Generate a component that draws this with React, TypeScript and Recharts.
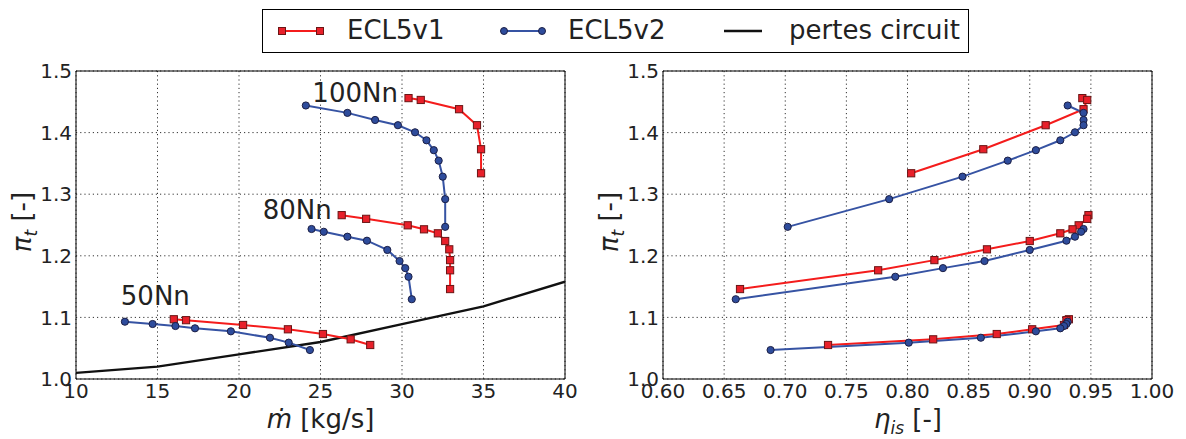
import React from 'react';
import {
  ComposedChart,
  Line,
  Scatter,
  XAxis,
  YAxis,
  CartesianGrid,
  ReferenceArea,
} from 'recharts';

// ECL5v1, 100Nn
const v1_100_m = [30.4, 31.15, 33.5, 34.6, 34.85, 34.85];
const v1_100_pi = [1.456, 1.453, 1.438, 1.412, 1.373, 1.334];
const v1_100_eta = [0.943, 0.947, 0.944, 0.913, 0.862, 0.803];
// ECL5v2, 100Nn
const v2_100_m = [24.1, 26.65, 28.35, 29.75, 30.8, 31.5, 31.95, 32.25, 32.5, 32.65, 32.65];
const v2_100_pi = [1.444, 1.432, 1.4205, 1.412, 1.4005, 1.3875, 1.3715, 1.3545, 1.3285, 1.292, 1.247];
const v2_100_eta = [0.931, 0.944, 0.944, 0.944, 0.937, 0.925, 0.905, 0.882, 0.845, 0.785, 0.702];
// ECL5v1, 80Nn
const v1_80_m = [26.3, 27.8, 30.35, 31.35, 32.2, 32.65, 32.9, 32.95, 32.95, 32.95];
const v1_80_pi = [1.266, 1.26, 1.2495, 1.243, 1.2365, 1.224, 1.2105, 1.193, 1.1765, 1.146];
const v1_80_eta = [0.948, 0.947, 0.94, 0.935, 0.925, 0.9, 0.865, 0.822, 0.776, 0.663];
// ECL5v2, 80Nn
const v2_80_m = [24.45, 25.2, 26.65, 27.85, 29.1, 29.85, 30.2, 30.4, 30.6];
const v2_80_pi = [1.2435, 1.239, 1.231, 1.2245, 1.2095, 1.1915, 1.18, 1.166, 1.1295];
const v2_80_eta = [0.944, 0.942, 0.937, 0.93, 0.9, 0.863, 0.829, 0.79, 0.6595];
// ECL5v1, 50Nn
const v1_50_m = [16.0, 16.75, 20.25, 23.0, 25.15, 26.85, 28.05];
const v1_50_pi = [1.097, 1.0955, 1.0877, 1.0807, 1.073, 1.0644, 1.0552];
const v1_50_eta = [0.932, 0.93, 0.928, 0.902, 0.873, 0.821, 0.735];
// ECL5v2, 50Nn
const v2_50_m = [13.0, 14.7, 16.1, 17.3, 19.5, 21.9, 23.05, 24.35];
const v2_50_pi = [1.093, 1.0893, 1.086, 1.0823, 1.0774, 1.067, 1.059, 1.047];
const v2_50_eta = [0.931, 0.93, 0.928, 0.925, 0.905, 0.86, 0.801, 0.688];
// pertes circuit
const circuit_m = [10, 15, 20, 25, 30, 35, 40];
const circuit_pi = [1.01, 1.02, 1.04, 1.06, 1.089, 1.118, 1.158];

const massTicks = [10, 15, 20, 25, 30, 35, 40];
const etaTicks = [0.6, 0.65, 0.7, 0.75, 0.8, 0.85, 0.9, 0.95, 1.0];
const piTicks = [1.0, 1.1, 1.2, 1.3, 1.4, 1.5];

const speedLabels = ['100Nn', '80Nn', '50Nn'];
const speedLabelM = [24.5, 21.45, 12.75];
const speedLabelPi = [1.45, 1.259, 1.12];

const zip = (xs: number[], ys: number[]) => xs.map((x, i) => ({ x, y: ys[i] }));

const RED = '#f41c1c';
const RED_FILL = '#e8202a';
const RED_EDGE = '#6b1515';
const BLUE = '#3653a3';
const BLUE_FILL = '#2e4c9c';
const BLUE_EDGE = '#1c1f45';
const FONT = '"DejaVu Sans", sans-serif';

const square = (p: any) => {
  if (p.cx == null || p.cy == null) return <g key={p.index} />;
  return (
    <rect key={p.index} x={p.cx - 3.6} y={p.cy - 3.6} width={7.2} height={7.2}
      fill={RED_FILL} stroke={RED_EDGE} strokeWidth={1} />
  );
};

const circle = (p: any) => {
  if (p.cx == null || p.cy == null) return <g key={p.index} />;
  return <circle key={p.index} cx={p.cx} cy={p.cy} r={3.6} fill={BLUE_FILL} stroke={BLUE_EDGE} strokeWidth={1} />;
};

const textShape = (p: any) => (
  <text x={p.cx} y={p.cy} fontSize={26} fill="#222" fontFamily={FONT}>{p.payload.label}</text>
);

const W = 600;
const H = 439;
const margin = { top: 71, right: 35, bottom: 0, left: 10 };
const tick = { fontSize: 20, fill: '#222', fontFamily: FONT };

type Group = { v1: { x: number; y: number }[]; v2: { x: number; y: number }[] };

const Panel = ({ groups, domain, ticks, fmt, circuit, labels }: {
  groups: Group[]; domain: [number, number]; ticks: number[]; fmt: (v: number) => string;
  circuit?: { x: number; y: number }[]; labels?: { x: number; y: number; label: string }[];
}) => (
  <ComposedChart width={W} height={H} margin={margin}>
    <CartesianGrid strokeDasharray="1.2 3" stroke="#333" strokeWidth={1} />
    <XAxis type="number" dataKey="x" domain={domain} ticks={ticks} interval={0}
      allowDataOverflow tickFormatter={fmt} tick={tick} tickSize={0} tickMargin={5}
      axisLine={false} height={60} />
    <YAxis type="number" dataKey="y" domain={[1.0, 1.5]} ticks={piTicks} interval={0}
      allowDataOverflow tickFormatter={(v: number) => v.toFixed(1)} tick={tick}
      tickSize={0} tickMargin={4} axisLine={false} width={66} />
    <ReferenceArea x1={domain[0]} x2={domain[1]} y1={1.0} y2={1.5} fill="none"
      stroke="#000" strokeWidth={1} ifOverflow="visible" />
    {circuit && (
      <Line data={circuit} dataKey="y" stroke="#111" strokeWidth={2.4} dot={false}
        isAnimationActive={false} />
    )}
    {groups.map((g, i) => (
      <Line key={`v1-${i}`} data={g.v1} dataKey="y" stroke={RED} strokeWidth={2}
        dot={square} activeDot={false} isAnimationActive={false} />
    ))}
    {groups.map((g, i) => (
      <Line key={`v2-${i}`} data={g.v2} dataKey="y" stroke={BLUE} strokeWidth={2}
        dot={circle} activeDot={false} isAnimationActive={false} />
    ))}
    {labels && <Scatter data={labels} dataKey="y" shape={textShape} isAnimationActive={false} />}
  </ComposedChart>
);

const LegendIcon = ({ kind }: { kind: 'sq' | 'ci' | 'line' }) => (
  <svg width={46} height={20} style={{ display: 'block' }}>
    <line x1={4} y1={10} x2={42} y2={10} stroke={kind === 'sq' ? RED : kind === 'ci' ? BLUE : '#111'}
      strokeWidth={kind === 'line' ? 2.4 : 2} />
    {kind === 'sq' && <rect x={0.5} y={6.5} width={7} height={7} fill={RED_FILL} stroke={RED_EDGE} />}
    {kind === 'sq' && <rect x={38.5} y={6.5} width={7} height={7} fill={RED_FILL} stroke={RED_EDGE} />}
    {kind === 'ci' && <circle cx={4} cy={10} r={3.5} fill={BLUE_FILL} stroke={BLUE_EDGE} />}
    {kind === 'ci' && <circle cx={42} cy={10} r={3.5} fill={BLUE_FILL} stroke={BLUE_EDGE} />}
  </svg>
);

export default function App() {
  const leftGroups: Group[] = [
    { v1: zip(v1_100_m, v1_100_pi), v2: zip(v2_100_m, v2_100_pi) },
    { v1: zip(v1_80_m, v1_80_pi), v2: zip(v2_80_m, v2_80_pi) },
    { v1: zip(v1_50_m, v1_50_pi), v2: zip(v2_50_m, v2_50_pi) },
  ];
  const rightGroups: Group[] = [
    { v1: zip(v1_100_eta, v1_100_pi), v2: zip(v2_100_eta, v2_100_pi) },
    { v1: zip(v1_80_eta, v1_80_pi), v2: zip(v2_80_eta, v2_80_pi) },
    { v1: zip(v1_50_eta, v1_50_pi), v2: zip(v2_50_eta, v2_50_pi) },
  ];
  const labels = speedLabels.map((label, i) => ({ x: speedLabelM[i], y: speedLabelPi[i], label }));

  const titleStyle: React.CSSProperties = {
    position: 'absolute', fontSize: 26, lineHeight: '30px', height: 30, textAlign: 'center',
    color: '#222', whiteSpace: 'nowrap',
  };
  const yTitle = (cx: number) => (
    <div style={{ ...titleStyle, left: cx - 60, top: 207, width: 120, transform: 'rotate(-90deg)' }}>
      <i>π</i><sub style={{ fontSize: 17 }}><i>t</i></sub> [-]
    </div>
  );

  return (
    <div style={{ position: 'absolute', left: 0, top: 0, width: 1186, height: 439, background: '#fff', fontFamily: FONT, overflow: 'hidden' }}>
      <div style={{ position: 'absolute', left: 0, top: 0 }}>
        <Panel groups={leftGroups} domain={[10, 40]} ticks={massTicks} fmt={(v) => String(v)}
          circuit={zip(circuit_m, circuit_pi)} labels={labels} />
      </div>
      <div style={{ position: 'absolute', left: 587, top: 0 }}>
        <Panel groups={rightGroups} domain={[0.6, 1.0]} ticks={etaTicks} fmt={(v) => v.toFixed(2)} />
      </div>

      <div style={{ ...titleStyle, left: 76, width: 489, top: 404 }}><i>ṁ</i> [kg/s]</div>
      <div style={{ ...titleStyle, left: 663, width: 490, top: 404 }}>
        <i>η</i><sub style={{ fontSize: 17 }}><i>is</i></sub> [-]
      </div>
      {yTitle(22)}
      {yTitle(609)}

      <div style={{ position: 'absolute', left: 262, top: 9, width: 707, height: 44, border: '1px solid #000', boxSizing: 'border-box', background: '#fff' }}>
        <div style={{ position: 'absolute', left: 15, top: 11 }}><LegendIcon kind="sq" /></div>
        <div style={{ position: 'absolute', left: 84, top: 5, fontSize: 26, lineHeight: '30px', color: '#222' }}>ECL5v1</div>
        <div style={{ position: 'absolute', left: 237, top: 11 }}><LegendIcon kind="ci" /></div>
        <div style={{ position: 'absolute', left: 305, top: 5, fontSize: 26, lineHeight: '30px', color: '#222' }}>ECL5v2</div>
        <div style={{ position: 'absolute', left: 457, top: 11 }}><LegendIcon kind="line" /></div>
        <div style={{ position: 'absolute', left: 526, top: 5, fontSize: 26, lineHeight: '30px', color: '#222' }}>pertes circuit</div>
      </div>
    </div>
  );
}
